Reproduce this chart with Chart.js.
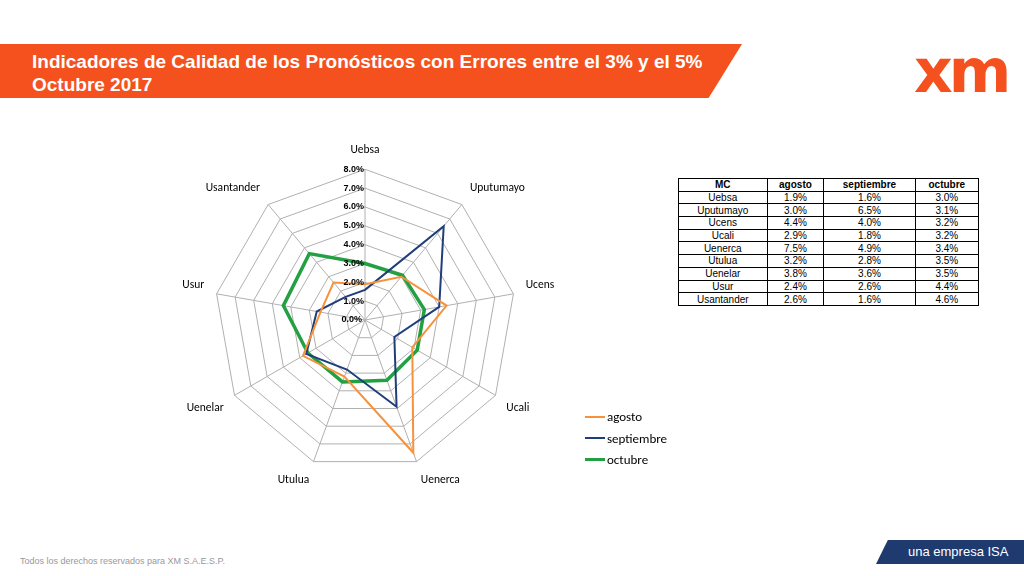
<!DOCTYPE html><html><head><meta charset="utf-8"><script src="https://cdn.jsdelivr.net/npm/chart.js@4"></script>
<style>
body{margin:0;width:1024px;height:576px;position:relative;background:#fff;font-family:"Liberation Sans",Arial,sans-serif;overflow:hidden}
#ban{position:absolute;left:0;top:44px;width:742px;height:54px;background:#f4511e;clip-path:polygon(0 0,100% 0,95.5% 100%,0 100%)}
#ttl{position:absolute;left:32px;top:50px;color:#fff;font-weight:bold;font-size:19px;line-height:23px}
#logo{position:absolute;left:914px;top:36px;color:#f4511e;font:bold 60px "DejaVu Sans";letter-spacing:-4px}
#cw{position:absolute;left:144px;top:138px;width:442px;height:354px}
table{position:absolute;left:678px;top:178px;border-collapse:collapse;font-size:10px;width:301px}
td,th{border:1px solid #000;text-align:center;padding:0;height:11.7px;line-height:11px}
th{font-weight:bold}
#leg{position:absolute;left:585px;top:406px;font:13px Calibri,Carlito,"Liberation Sans",sans-serif}
#leg div{display:flex;align-items:center;height:21.5px}
#leg span{display:inline-block;width:20px;margin-right:2px}
#foot{position:absolute;left:20px;top:556px;font-size:9px;color:#999}
#isa{position:absolute;left:876px;top:540px;width:148px;height:24px;background:#1f3a6e;clip-path:polygon(8% 0,100% 0,100% 100%,0 100%);color:#fff;font-size:13px;line-height:24px;padding-left:32px;box-sizing:border-box}
</style></head><body>
<div id="ban"></div><div id="ttl">Indicadores de Calidad de los Pronósticos con Errores entre el 3% y el 5%<br>Octubre 2017</div>
<div id="logo">xm</div>
<div id="cw"><canvas id="c"></canvas></div>
<table id="tb"></table>
<div id="leg"></div>
<div id="foot">Todos los derechos reservados para XM S.A.E.S.P.</div>
<div id="isa">una empresa ISA</div>
<script>
const categories=["Uebsa","Uputumayo","Ucens","Ucali","Uenerca","Utulua","Uenelar","Usur","Usantander"];
const agosto=[1.9,3.0,4.4,2.9,7.5,3.2,3.8,2.4,2.6];
const septiembre=[1.6,6.5,4.0,1.8,4.9,2.8,3.6,2.6,1.6];
const octubre=[3.0,3.1,3.2,3.2,3.4,3.5,3.5,4.4,4.6];
const seriesNames=["agosto","septiembre","octubre"];
const colors=["#f7923a","#1f3e7a","#22a042"];
const widths=[2,2,3.5];
const all=[agosto,septiembre,octubre];
let h='<tr><th>MC</th>'+seriesNames.map(s=>'<th>'+s+'</th>').join('')+'</tr>';
categories.forEach((c,i)=>{h+='<tr><td>'+c+'</td>'+all.map(a=>'<td>'+a[i].toFixed(1)+'%</td>').join('')+'</tr>'});
document.getElementById('tb').innerHTML=h;
document.getElementById('leg').innerHTML=seriesNames.map((s,i)=>'<div><span style="border-top:'+widths[i]+'px solid '+colors[i]+'"></span>'+s+'</div>').join('');
const zeroLabel={id:'zero',afterDraw(ch){const s=ch.scales.r,c=ch.ctx;c.save();c.font='bold 9px "Liberation Sans"';c.fillStyle='#000';c.textAlign='right';c.textBaseline='middle';c.fillText('0.0%',s.xCenter-3,s.yCenter);c.restore();}};
new Chart(document.getElementById('c'),{type:'radar',data:{labels:categories,datasets:all.map((d,i)=>({label:seriesNames[i],data:d,borderColor:colors[i],borderWidth:widths[i],fill:false,pointRadius:0,tension:0}))},
options:{responsive:true,maintainAspectRatio:false,animation:false,plugins:{legend:{display:false},tooltip:{enabled:false}},
scales:{r:{min:0,max:8,ticks:{stepSize:1,backdropColor:'rgba(0,0,0,0)',color:'#000',font:{size:9,weight:'bold'},callback:v=>v.toFixed(1)+'%         ',z:1},
grid:{color:'#b0b0b0'},angleLines:{color:'#b0b0b0'},pointLabels:{color:'#000',font:{size:11.5,family:'Carlito, Calibri, "Liberation Sans"'},padding:6}}}},plugins:[zeroLabel]});
</script></body></html>
